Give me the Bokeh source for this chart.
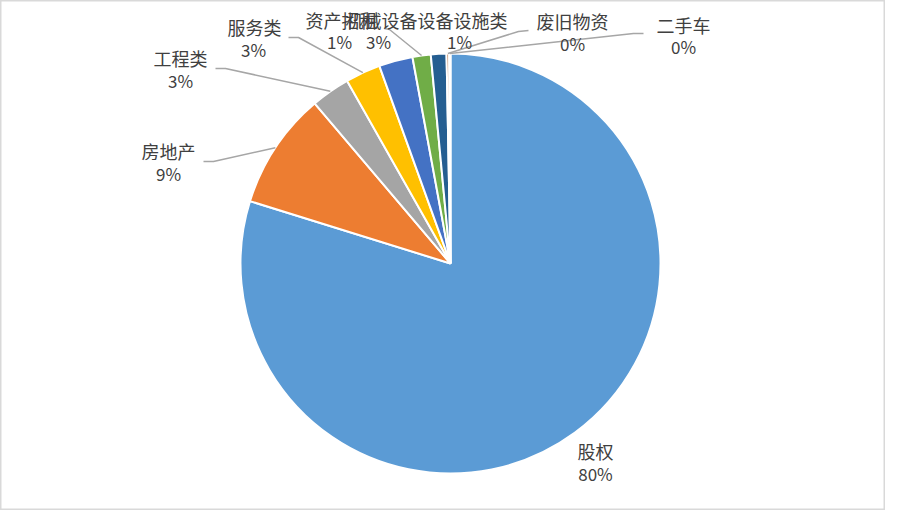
import math
from bokeh.plotting import figure
from bokeh.models import Range1d, ColumnDataSource
from bokeh.core.properties import value
from bokeh.embed import file_html
from bokeh.resources import INLINE

# ---- data ----
categories = ["股权", "房地产", "工程类", "服务类", "机械设备", "资产招租", "设备设施类", "废旧物资", "二手车"]
values = [79.8, 9.0, 3.0, 2.7, 2.6, 1.4, 1.2, 0.2, 0.1]
colors = ["#5B9BD5", "#ED7D31", "#A5A5A5", "#FFC000", "#4472C4", "#70AD47", "#255E91", "#9E480E", "#636363"]

# ---- layout (screen px; y measured downward from top) ----
H = 526
W_FIG, H_FIG = 885, 510
CX, CY, R = 450, 263, 210
label_pos = {
    "股权": (595, 450, 595, 473),
    "房地产": (168, 150, 168, 173),
    "工程类": (180, 57.5, 180, 80),
    "服务类": (254, 26.5, 253, 49),
    "资产招租": (341, 19.5, 339, 41),
    "机械设备": (381, 19.5, 378, 41),
    "设备设施类": (462, 19.5, 459, 41),
    "废旧物资": (572, 20, 572, 43),
    "二手车": (683, 24, 683, 46),
}
leader_start = {
    "房地产": [(203, 161), (213, 161)],
    "工程类": [(215, 68), (225, 68)],
    "服务类": [(288, 37), (298, 37)],
    "资产招租": [(384, 28), (389, 29)],
    "废旧物资": [(528, 30), (518, 31)],
    "二手车": [(643, 33), (633, 33)],
}

total = sum(values)
starts, ends, mids = [], [], []
cum = 0.0
for v in values:
    a0 = math.pi / 2 - cum / total * 2 * math.pi
    cum += v
    a1 = math.pi / 2 - cum / total * 2 * math.pi
    starts.append(a0)
    ends.append(a1)
    mids.append((a0 + a1) / 2)

p = figure(width=W_FIG, height=H_FIG, x_range=Range1d(0, W_FIG), y_range=Range1d(H - H_FIG, H),
           output_backend="svg", toolbar_location=None, x_axis_type=None, y_axis_type=None,
           min_border=0)
p.grid.visible = False
p.outline_line_color = "#D9D9D9"
p.outline_line_width = 2
p.background_fill_color = "white"
p.border_fill_color = "white"

src = ColumnDataSource(dict(start=starts, end=ends, color=colors, cat=categories))
p.wedge(x=CX, y=H - CY, radius=R, start_angle="start", end_angle="end", direction="clock",
        fill_color="color", line_color="white", line_width=2, source=src)

# leader lines
for i, c in enumerate(categories):
    if c in leader_start:
        pts = leader_start[c]
        ex = CX + R * math.cos(mids[i])
        ey = (H - CY) + R * math.sin(mids[i])
        xs = [pts[0][0], pts[1][0], ex]
        ys = [H - pts[0][1], H - pts[1][1], ey]
        p.line(xs, ys, line_color="#A6A6A6", line_width=1.5)

# labels
font = value("Noto Sans CJK SC")
for i, c in enumerate(categories):
    nx, ny, px_, py_ = label_pos[c]
    pct = f"{round(values[i] / total * 100)}%"
    p.text(x=[nx], y=[H - ny], text=[c], text_align="center", text_baseline="middle",
           text_font=font, text_font_size="18px", text_color="#404040")
    p.text(x=[px_], y=[H - py_], text=[pct], text_align="center", text_baseline="middle",
           text_font=font, text_font_size="17px", text_color="#404040")

open("out.html", "w").write(file_html(p, INLINE))
